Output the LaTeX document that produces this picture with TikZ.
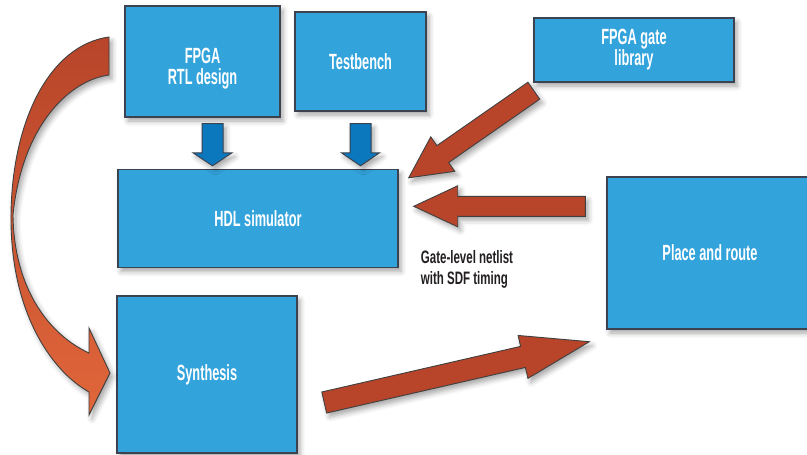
\documentclass[tikz,border=0pt]{standalone}
\usepackage{fontspec}
\usetikzlibrary{positioning,calc,shadows.blur}

\newfontfamily\boxfont[FakeStretch=0.58]{Liberation Sans}
\newfontfamily\notefont[FakeStretch=0.64]{Liberation Sans}
\newcommand{\boxlabel}{\boxfont\bfseries\fontsize{22}{21}\selectfont}
\newcommand{\notelabel}{\notefont\bfseries\fontsize{18}{21}\selectfont}

\definecolor{boxblue}{HTML}{33A3DC}
\definecolor{boxline}{HTML}{3C4250}
\definecolor{downblue}{HTML}{0B78BE}
\definecolor{flowred}{HTML}{B8452A}
\definecolor{floworange}{HTML}{E0663A}
\definecolor{notegray}{HTML}{231F20}

% straight block arrow: style, from, to, half shaft, half head, head length
\newcommand{\blockarrow}[6]{%
  \path[#1] let \p1=#2, \p2=#3,
      \n1={atan2(\y2-\y1,\x2-\x1)}, \n2={veclen(\x2-\x1,\y2-\y1)} in
    [shift={(\p1)}, rotate=\n1]
    (0pt,-#4pt) -- (\n2-#6pt,-#4pt) -- (\n2-#6pt,-#5pt) -- (\n2,0pt)
    -- (\n2-#6pt,#5pt) -- (\n2-#6pt,#4pt) -- (0pt,#4pt) -- cycle;}

\tikzset{
  soft shadow/.style={blur shadow={shadow xshift=3pt, shadow yshift=-4pt,
      shadow blur radius=5pt, shadow opacity=35}},
  box/.style={draw=boxline, line width=1.4pt, fill=boxblue, text=white,
      font=\boxlabel, align=center, inner sep=0pt, soft shadow},
  note/.style={text=notegray, font=\notelabel, align=left, inner sep=0pt},
  bluearrow/.style={fill=downblue, draw=boxline, line width=1pt, soft shadow},
  flowarrow/.style={fill=flowred, draw=black!75, line width=0.9pt, soft shadow},
  flowcurve/.style={top color=flowred, middle color=flowred!55!floworange,
      bottom color=floworange, draw=black!75, line width=0.9pt, soft shadow}
}

\begin{document}
\begin{tikzpicture}[x=1pt, y=-1pt]
  \useasboundingbox (0,0) rectangle (807,455);

  % blocks
  \node[box, minimum width=155pt, minimum height=111pt] (rtl) at (202.5,61.5) {\rule{0pt}{30pt}FPGA\\RTL design};
  \node[box, minimum width=131pt, minimum height=99pt] (tb) at (360.5,61.5) {Testbench};
  \node[box, minimum width=200pt, minimum height=64pt] (lib) at (634,50) {FPGA gate\\library};
  \node[box, minimum width=280pt, minimum height=98pt] (sim) at (258,218.5) {HDL simulator};
  \node[box, minimum width=180pt, minimum height=157pt] (syn) at (207,374.5) {Synthesis};
  \node[box, minimum width=206pt, minimum height=152pt] (par) at (710,253) {Place and route};

  \node[note, anchor=west] (netlist) at ($(sim.east)+(22,51)$) {Gate-level netlist\\with SDF timing};

  % ends of the block arrows
  \coordinate (rtlout) at ($(rtl.south)+(10,6)$);
  \coordinate (simin1) at ($(rtlout |- sim.north)+(0,-3)$);
  \coordinate (tbout) at ($(tb.south)+(0,12)$);
  \coordinate (simin2) at ($(tbout |- sim.north)+(0,-3)$);
  \coordinate (libout) at ($(lib.south west)+(0.5,8)$);
  \coordinate (simin3) at ($(sim.north east)+(10,9)$);
  \coordinate (parout) at ($(par.north west)+(-21,30)$);
  \coordinate (simin4) at ($(sim.east |- parout)+(15,0)$);
  \coordinate (synout) at ($(syn.east)+(26.5,28)$);
  \coordinate (parin) at ($(par.south west)+(-17,12)$);

  % inputs of the simulator
  \blockarrow{bluearrow}{(rtlout)}{(simin1)}{10.5}{19.5}{13}
  \blockarrow{bluearrow}{(tbout)}{(simin2)}{10.5}{19}{13}
  \blockarrow{flowarrow}{(libout)}{(simin3)}{10.3}{21}{41.5}
  \blockarrow{flowarrow}{(parout)}{(simin4)}{10}{20.5}{44}
  \blockarrow{flowarrow}{(synout)}{(parin)}{10.8}{22}{68}

  % design to synthesis
  \shadedraw[flowcurve] (109,37) .. controls (50,45) and (12,120) .. (11,215)
    .. controls (10,310) and (50,370) .. (89,392)
    -- (89,415) -- (110,373) -- (89,328) -- (89,353)
    .. controls (50,335) and (14,290) .. (13,215)
    .. controls (22,125) and (70,80) .. (109,75) -- cycle;
\end{tikzpicture}
\end{document}
